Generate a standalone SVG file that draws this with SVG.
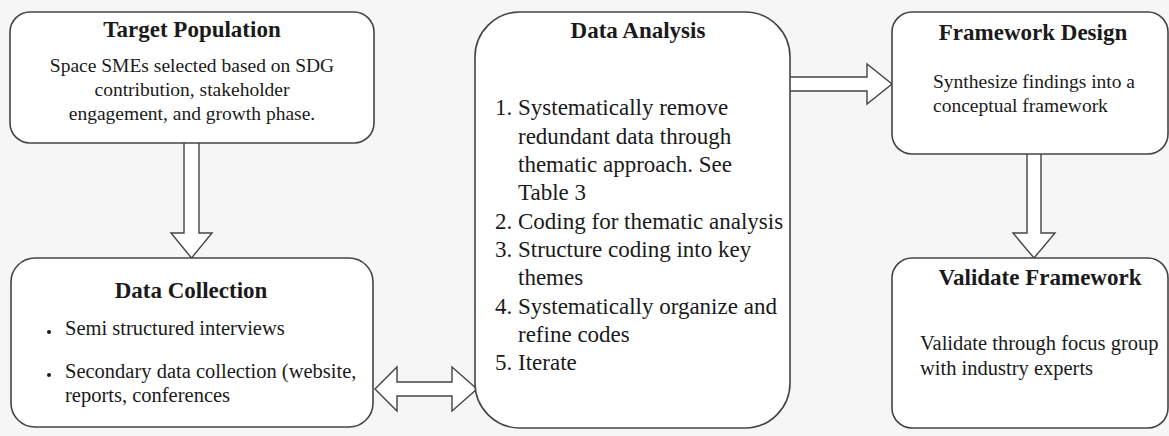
<svg xmlns="http://www.w3.org/2000/svg" width="1169" height="436" viewBox="0 0 1169 436">
<style>
.box{fill:#ffffff;stroke:#444444;stroke-width:1.6}
.arr{fill:#ffffff;stroke:#444444;stroke-width:1.4;stroke-linejoin:miter}
text{font-family:"Liberation Serif","Times New Roman",serif;fill:#1a1a1a}
.t{font-size:23px;font-weight:bold;text-anchor:middle}
.b{font-size:19.5px}
.c{text-anchor:middle}
.l{font-size:23px}
.d{font-size:20.5px}
</style>
<rect width="1169" height="436" fill="#f6f6f6"/>
<g id="connectors">
<path class="arr" d="M184,143 V233 H171 L191.5,258 L212,233 H199 V143"/>
<path class="arr" d="M375,389 L397,367 V382 H452 V367 L477,389 L452,411 V396 H397 V411 Z"/>
<path class="arr" d="M789,77 H867 V64 L892,84 L867,104 V91 H789"/>
<path class="arr" d="M1027,154 V233 H1013 L1034,258 L1055,233 H1041 V154"/>
</g>
<g id="target-population">
<rect class="box" x="10" y="12" width="364" height="131" rx="20"/>
<text class="t" x="192" y="37">Target Population</text>
<text class="b c" x="192" y="72">Space SMEs selected based on SDG</text>
<text class="b c" x="192" y="96">contribution, stakeholder</text>
<text class="b c" x="192" y="120">engagement, and growth phase.</text>
</g>
<g id="data-collection">
<rect class="box" x="11" y="258" width="362" height="169" rx="24"/>
<text class="t" x="191" y="298">Data Collection</text>
<circle cx="49" cy="332" r="2" fill="#1a1a1a"/>
<text class="d" x="65" y="335">Semi structured interviews</text>
<circle cx="49" cy="375" r="2" fill="#1a1a1a"/>
<text class="d" x="65" y="378">Secondary data collection (website,</text>
<text class="d" x="65" y="402">reports, conferences</text>
</g>
<g id="data-analysis">
<rect class="box" x="475" y="12" width="315" height="416" rx="45"/>
<text class="t" x="638" y="38">Data Analysis</text>
<text class="l" x="495" y="115">1.</text><text class="l" x="518" y="115">Systematically remove</text>
<text class="l" x="518" y="144">redundant data through</text>
<text class="l" x="518" y="172">thematic approach. See</text>
<text class="l" x="518" y="200">Table 3</text>
<text class="l" x="495" y="229">2.</text><text class="l" x="518" y="229">Coding for thematic analysis</text>
<text class="l" x="495" y="257">3.</text><text class="l" x="518" y="257">Structure coding into key</text>
<text class="l" x="518" y="285">themes</text>
<text class="l" x="495" y="314">4.</text><text class="l" x="518" y="314">Systematically organize and</text>
<text class="l" x="518" y="342">refine codes</text>
<text class="l" x="495" y="370">5.</text><text class="l" x="518" y="370">Iterate</text>
</g>
<g id="framework-design">
<rect class="box" x="892" y="12" width="276" height="142" rx="20"/>
<text class="t" x="1033" y="40">Framework Design</text>
<text class="b" x="933" y="88">Synthesize findings into a</text>
<text class="b" x="933" y="112">conceptual framework</text>
</g>
<g id="validate-framework">
<rect class="box" x="892" y="258" width="276" height="170" rx="20"/>
<text class="t" x="1040" y="285">Validate Framework</text>
<text class="d" x="920" y="350">Validate through focus group</text>
<text class="d" x="920" y="375">with industry experts</text>
</g>
</svg>
